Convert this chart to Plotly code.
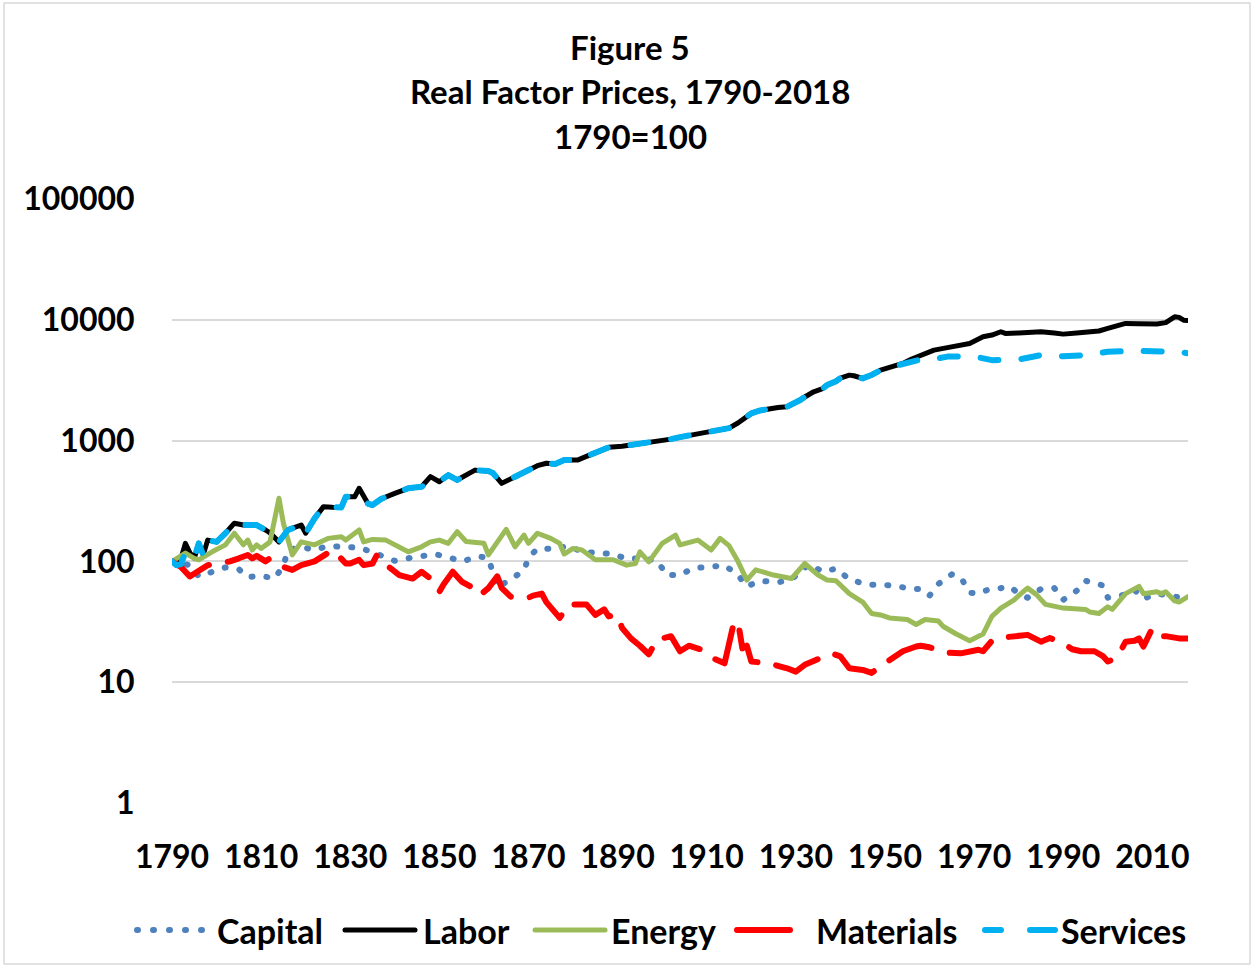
import plotly.graph_objects as go

# ---------------- data ----------------
labor_years = [1790, 1791, 1792, 1793, 1794, 1795, 1796, 1797, 1798, 1800, 1802, 1804, 1806, 1809, 1811, 1812,
               1814, 1816, 1819, 1820, 1822, 1824, 1826, 1828, 1829, 1831, 1832, 1834, 1835, 1837, 1840, 1843,
               1846, 1848, 1850, 1852, 1854, 1856, 1858, 1861, 1862, 1864, 1866, 1868, 1870, 1872, 1874, 1876,
               1878, 1881, 1883, 1886, 1888, 1891, 1893, 1895, 1898, 1900, 1902, 1904, 1906, 1909, 1911, 1913,
               1915, 1917, 1918, 1920, 1922, 1924, 1926, 1928, 1930, 1931, 1932, 1934, 1936, 1937, 1939, 1940,
               1942, 1943, 1945, 1947, 1949, 1951, 1954, 1956, 1958, 1961, 1964, 1966, 1969, 1972, 1974, 1976,
               1977, 1980, 1983, 1985, 1988, 1990, 1993, 1996, 1998, 2000, 2002, 2004, 2007, 2009, 2011, 2013,
               2015, 2016, 2017, 2018]
labor = [100, 98, 105, 141, 118, 106, 141, 113, 150, 145, 171, 207, 200, 200, 182, 172,
         145, 182, 200, 171, 227, 284, 281, 280, 343, 343, 403, 300, 293, 330, 366, 403,
         415, 503, 457, 519, 472, 520, 570, 560, 540, 443, 480, 520, 560, 620, 650, 640,
         690, 690, 740, 830, 880, 900, 920, 950, 970, 990, 1030, 1070, 1100, 1150, 1190, 1224,
         1270, 1400, 1500, 1683, 1780, 1850, 1880, 1909, 2050, 2170, 2300, 2540, 2700, 2886, 3100, 3300,
         3490, 3450, 3280, 3500, 3840, 4050, 4360, 4750, 5110, 5620, 5900, 6050, 6390, 7250, 7500, 7980,
         7730, 7800, 7900, 7980, 7800, 7630, 7800, 7980, 8100, 8510, 8900, 9360, 9300, 9250, 9240, 9500,
         10610, 10500, 9960, 9900]

services_years = [1790, 1791, 1792, 1793, 1794, 1795, 1796, 1797, 1798, 1800, 1802, 1804, 1806, 1809, 1811, 1812,
                  1814, 1816, 1819, 1820, 1822, 1824, 1826, 1828, 1829, 1831, 1832, 1834, 1835, 1837, 1840, 1843,
                  1846, 1848, 1850, 1852, 1854, 1856, 1858, 1861, 1862, 1864, 1866, 1868, 1870, 1872, 1874, 1876,
                  1878, 1881, 1883, 1886, 1888, 1891, 1893, 1895, 1898, 1900, 1902, 1904, 1906, 1909, 1911, 1913,
                  1915, 1917, 1918, 1920, 1922, 1924, 1926, 1928, 1930, 1931, 1932, 1934, 1936, 1937, 1939, 1940,
                  1942, 1943, 1945, 1947, 1949, 1951, 1954, 1956, 1958, 1960, 1964, 1970, 1972, 1974, 1977, 1980,
                  1985, 1988, 1990, 1995, 2000, 2006, 2011, 2014, 2016, 2018]
services = [100, 93, 95, 118, 110, 106, 141, 113, 150, 145, 171, 207, 200, 200, 182, 172,
            145, 182, 200, 171, 227, 284, 281, 280, 343, 343, 345, 300, 293, 330, 366, 403,
            415, 450, 457, 519, 472, 520, 570, 560, 540, 443, 480, 520, 560, 620, 650, 640,
            690, 690, 740, 830, 880, 900, 920, 950, 970, 990, 1030, 1070, 1100, 1150, 1190, 1224,
            1270, 1400, 1500, 1683, 1780, 1850, 1880, 1909, 2050, 2170, 2300, 2540, 2700, 2886, 3100, 3300,
            3490, 3450, 3280, 3500, 3840, 4050, 4360, 4600, 4700, 4650, 4970, 4970, 4800, 4645, 4650, 4700,
            5110, 5050, 5000, 5110, 5450, 5550, 5550, 5500, 5450, 5300]

energy_years = [1790, 1793, 1795, 1796, 1799, 1802, 1804, 1806, 1807, 1808, 1809, 1810, 1812, 1814, 1815, 1817,
                1819, 1822, 1825, 1828, 1829, 1832, 1833, 1835, 1838, 1840, 1843, 1846, 1848, 1850, 1852, 1854,
                1856, 1860, 1861, 1865, 1867, 1869, 1870, 1872, 1875, 1877, 1878, 1880, 1882, 1885, 1889, 1892,
                1894, 1895, 1897, 1900, 1903, 1904, 1908, 1911, 1913, 1915, 1917, 1919, 1921, 1925, 1929, 1932,
                1935, 1937, 1939, 1942, 1945, 1947, 1949, 1951, 1955, 1957, 1959, 1962, 1963, 1966, 1969, 1972,
                1974, 1976, 1979, 1981, 1982, 1984, 1986, 1990, 1995, 1996, 1998, 2000, 2001, 2004, 2007, 2008,
                2011, 2012, 2013, 2015, 2016, 2018]
energy = [100, 117, 106, 103, 120, 137, 171, 137, 150, 124, 137, 128, 145, 333, 207, 113,
          145, 137, 155, 160, 150, 182, 145, 152, 150, 137, 120, 132, 145, 150, 141, 176,
          146, 141, 113, 184, 132, 165, 141, 171, 155, 141, 115, 128, 124, 103, 103, 93,
          96, 120, 99, 141, 165, 137, 150, 124, 155, 135, 100, 70, 85, 77, 72, 96,
          77, 70, 69, 54, 46, 37, 36, 34, 33, 30, 33, 32, 29, 25, 22, 25,
          35, 41, 48, 56, 60, 53, 44, 41, 40, 38, 37, 42, 40, 54, 62, 54,
          56, 54, 56, 47, 46, 51]

materials_years = [1790, 1792, 1794, 1795, 1797, 1798, 1800, 1802, 1803, 1805, 1807, 1808, 1809, 1811, 1812, 1814,
                   1815, 1817, 1819, 1822, 1824, 1826, 1827, 1829, 1830, 1832, 1833, 1835, 1836, 1837, 1839, 1841,
                   1844, 1846, 1848, 1850, 1851, 1852, 1853, 1855, 1857, 1859, 1861, 1863, 1864, 1866, 1868, 1870,
                   1871, 1873, 1874, 1877, 1879, 1881, 1883, 1885, 1887, 1888, 1890, 1891, 1893, 1895, 1897, 1899,
                   1900, 1902, 1904, 1906, 1909, 1911, 1913, 1914, 1916, 1917, 1918, 1919, 1920, 1922, 1924, 1928,
                   1930, 1932, 1934, 1936, 1938, 1940, 1942, 1945, 1947, 1949, 1952, 1954, 1957, 1958, 1960, 1962,
                   1964, 1967, 1971, 1972, 1974, 1977, 1980, 1982, 1985, 1987, 1990, 1992, 1994, 1997, 1999, 2000,
                   2002, 2004, 2006, 2007, 2008, 2010, 2012, 2013, 2016, 2018]
materials = [100, 90, 75, 80, 88, 93, 96, 98, 100, 106, 113, 106, 111, 100, 106, 95,
             90, 85, 93, 100, 110, 124, 115, 96, 96, 103, 93, 96, 113, 100, 88, 77,
             72, 82, 72, 56, 65, 75, 82, 68, 62, 52, 60, 75, 60, 51, 50, 50,
             52, 54, 46, 34, 44, 44, 44, 36, 40, 35, 36, 28, 23, 20, 17, 23,
             23, 24, 18, 20, 18.5, 16, 14.8, 14.3, 30, 32, 19, 20, 14.8, 14.5, 14.3, 13,
             12.2, 13.9, 14.8, 16, 17.3, 16.3, 13, 12.6, 11.9, 13.5, 15.8, 18, 19.7, 20, 19.4, 18.2,
             17.5, 17.3, 18.5, 18, 22, 23.5, 24.5, 24.6, 21.6, 23.2, 21, 18.7, 18, 18, 16.3, 14.8,
             15.8, 21.6, 22, 23, 19.7, 28, 24, 24, 23, 23]

capital_years = [1790, 1794, 1796, 1799, 1802, 1805, 1807, 1810, 1813, 1815, 1816, 1819, 1822, 1825, 1828, 1832,
                 1835, 1838, 1840, 1843, 1846, 1849, 1852, 1855, 1859, 1861, 1862, 1863, 1866, 1869, 1870, 1872,
                 1876, 1879, 1882, 1885, 1889, 1892, 1896, 1899, 1901, 1904, 1907, 1911, 1914, 1917, 1919, 1922,
                 1926, 1929, 1931, 1933, 1936, 1939, 1942, 1946, 1949, 1952, 1956, 1958, 1960, 1962, 1965, 1967,
                 1969, 1971, 1973, 1974, 1978, 1980, 1982, 1985, 1988, 1990, 1993, 1995, 1999, 2000, 2003, 2006,
                 2008, 2011, 2015, 2018]
capital = [100, 93, 75, 82, 89, 86, 74, 76, 72, 92, 124, 132, 124, 134, 131, 130,
           119, 108, 101, 106, 111, 115, 108, 100, 110, 106, 81, 61, 71, 84, 108, 127,
           127, 134, 120, 119, 115, 105, 106, 100, 77, 77, 88, 90, 93, 77, 62, 69,
           67, 71, 82, 95, 82, 87, 71, 64, 64, 63, 59, 59, 52, 65, 78, 74,
           55, 54, 58, 58, 62, 54, 50, 59, 60, 48, 57, 69, 63, 50, 52, 58,
           49, 54, 51, 49]

series_names = ["Capital", "Labor", "Energy", "Materials", "Services"]
x_tick_years = [1790, 1810, 1830, 1850, 1870, 1890, 1910, 1930, 1950, 1970, 1990, 2010]
y_tick_vals = [1, 10, 100, 1000, 10000, 100000]
y_tick_text = ["1", "10", "100", "1000", "10000", "100000"]
title_lines = ["Figure 5", "Real Factor Prices, 1790-2018", "1790=100"]

# ---------------- styles ----------------
FONT = "Lato, 'Open Sans', sans-serif"
styles = {
    "Capital": dict(color="#4F81BD", width=6, dash="1px,14px"),
    "Labor": dict(color="#000000", width=5),
    "Energy": dict(color="#9BBB59", width=5),
    "Materials": dict(color="#FF0000", width=6, dash="46px,19px"),
    "Services": dict(color="#00B0F0", width=6, dash="18px,23px"),
}

W, H = 1254, 966
L, R, T, B = 172, 66, 199, 163
pw, ph = W - L - R, H - T - B


def px_x(p):
    return (p - L) / pw


def px_y(p):
    return (H - B - p) / ph


fig = go.Figure()
data = [(capital_years, capital), (labor_years, labor), (energy_years, energy),
        (materials_years, materials), (services_years, services)]
for name, (xs, ys) in zip(series_names, data):
    fig.add_trace(go.Scatter(x=xs, y=ys, name=name, mode="lines", line=styles[name],
                             showlegend=False))

annotations = []
for line, ypix in zip(title_lines, [47, 91, 136]):
    annotations.append(dict(text=line, xref="paper", yref="paper", x=px_x(630), y=px_y(ypix),
                            xanchor="center", yanchor="middle", showarrow=False,
                            font=dict(family=FONT, size=33, color="#000000", weight="bold")))

# custom legend (long symbols like the original)
legend_y = px_y(930)
legend_sym = {"Capital": (137, 209), "Labor": (345, 415), "Energy": (535, 605),
              "Materials": (737, 790), "Services": (985, 1055)}
legend_txt = {"Capital": 215, "Labor": 421, "Energy": 609, "Materials": 814, "Services": 1059}
legend_dash = {"Capital": "1px,15px", "Labor": None, "Energy": None, "Materials": None,
               "Services": "16px,29px,25px"}
shapes = [dict(type="rect", xref="paper", yref="paper",
               x0=px_x(4), x1=px_x(1250), y0=px_y(964), y1=px_y(3),
               line=dict(color="#D9D9D9", width=1.5), fillcolor="rgba(0,0,0,0)", layer="below")]
for name in series_names:
    a, b = legend_sym[name]
    ln = dict(color=styles[name]["color"], width=styles[name]["width"])
    if legend_dash[name]:
        ln["dash"] = legend_dash[name]
    shapes.append(dict(type="line", xref="paper", yref="paper", x0=px_x(a), x1=px_x(b),
                       y0=legend_y, y1=legend_y, line=ln))
    annotations.append(dict(text=name, xref="paper", yref="paper", x=px_x(legend_txt[name]), y=legend_y,
                            xanchor="left", yanchor="middle", showarrow=False,
                            font=dict(family=FONT, size=34, color="#000000", weight="bold")))

fig.update_layout(
    width=W, height=H,
    margin=dict(l=L, r=R, t=T, b=B),
    paper_bgcolor="white", plot_bgcolor="white",
    font=dict(family=FONT, size=32, color="#000000", weight="bold"),
    annotations=annotations,
    shapes=shapes,
    showlegend=False,
    hovermode=False,
)

fig.update_xaxes(range=[1790, 2018], tickvals=x_tick_years, ticktext=[str(v) for v in x_tick_years],
                 showgrid=False, zeroline=False, showline=False, ticks="outside", ticklen=0,
                 ticklabelstandoff=26,
                 tickfont=dict(family=FONT, size=32, color="#000000", weight="bold"))
fig.update_yaxes(type="log", range=[-0.002, 5.002], tickvals=y_tick_vals, ticktext=y_tick_text,
                 showgrid=True, gridcolor="#D9D9D9", gridwidth=2, zeroline=False, showline=False,
                 ticks="outside", ticklen=0, ticklabelstandoff=30,
                 tickfont=dict(family=FONT, size=32, color="#000000", weight="bold"))

post = """
document.body.style.margin = '0px';
document.body.style.overflow = 'hidden';
var gd = document.getElementsByClassName('plotly-graph-div')[0];
gd.querySelectorAll('path.js-line, .shapelayer path').forEach(function(p){
  p.style.strokeLinecap = 'round';
  p.style.strokeLinejoin = 'round';
});
"""

fig.write_html("out.html", post_script=post, config={"displayModeBar": False, "staticPlot": True})
